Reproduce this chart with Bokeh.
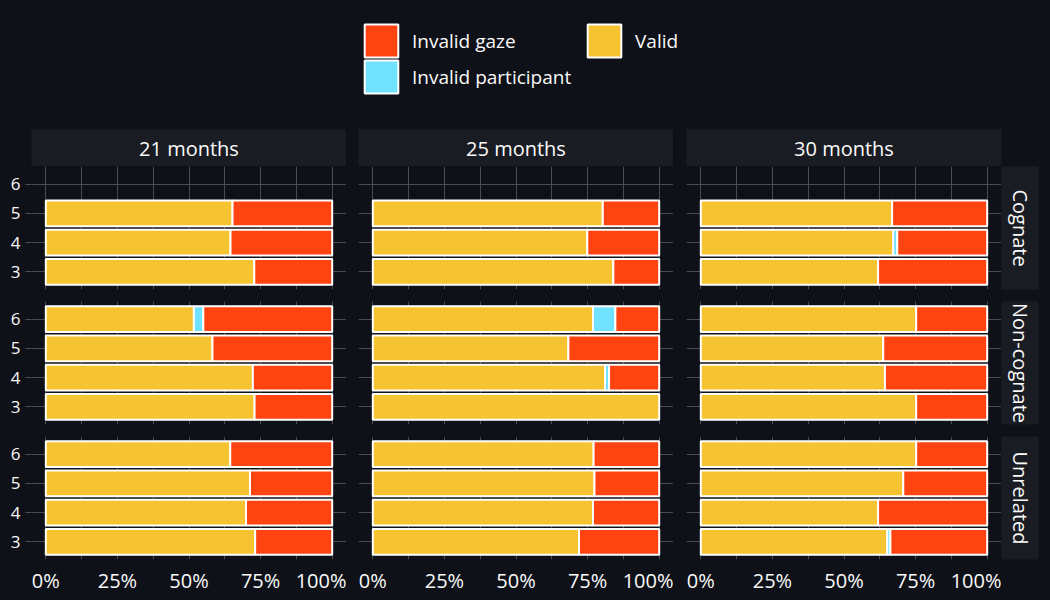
import numpy as np
from bokeh.plotting import figure
from bokeh.models import (Range1d, FixedTicker, PrintfTickFormatter, Legend, LegendItem,
                          ColumnDataSource, Label)
from bokeh.layouts import row, column
from bokeh.embed import file_html
from bokeh.resources import INLINE

# ---------------- data (percent of trials, trial numbers 3, 4, 5, 6) ----------------
AGES = ["21 months", "25 months", "30 months"]
CONDITIONS = ["Cognate", "Non-cognate", "Unrelated"]
TRIALS = [3, 4, 5, 6]
STATUSES = ["Valid", "Invalid participant", "Invalid gaze"]   # stacked from 0 %

VALID_21 = {"Cognate": [72.8, 64.5, 65.2, None],
            "Non-cognate": [72.9, 72.3, 58.2, 51.7],
            "Unrelated": [73.1, 69.9, 71.3, 64.4]}
PART_21 = {"Cognate": [0, 0, 0, None],
           "Non-cognate": [0, 0, 0, 3.3],
           "Unrelated": [0, 0, 0, 0]}
GAZE_21 = {"Cognate": [27.2, 35.5, 34.8, None],
           "Non-cognate": [27.1, 27.7, 41.8, 45.0],
           "Unrelated": [26.9, 30.1, 28.7, 35.6]}

VALID_25 = {"Cognate": [84.0, 74.9, 80.3, None],
            "Non-cognate": [100.0, 81.1, 68.3, 76.9],
            "Unrelated": [72.0, 76.9, 77.4, 77.1]}
PART_25 = {"Cognate": [0, 0, 0, None],
           "Non-cognate": [0, 1.4, 0, 7.8],
           "Unrelated": [0, 0, 0, 0]}
GAZE_25 = {"Cognate": [16.0, 25.1, 19.7, None],
           "Non-cognate": [0, 17.5, 31.7, 15.3],
           "Unrelated": [28.0, 23.1, 22.6, 22.9]}

VALID_30 = {"Cognate": [61.9, 67.2, 66.8, None],
            "Non-cognate": [75.2, 64.3, 63.7, 75.2],
            "Unrelated": [65.1, 61.9, 70.7, 75.2]}
PART_30 = {"Cognate": [0, 1.4, 0, None],
           "Non-cognate": [0, 0, 0, 0],
           "Unrelated": [1.1, 0, 0, 0]}
GAZE_30 = {"Cognate": [38.1, 31.4, 33.2, None],
           "Non-cognate": [24.8, 35.7, 36.3, 24.8],
           "Unrelated": [33.8, 38.1, 29.3, 24.8]}

X_TICKS = [0, 25, 50, 75, 100]
X_MINOR = [12.5, 37.5, 62.5, 87.5]

DATA = {
    "21 months": {"Valid": VALID_21, "Invalid participant": PART_21, "Invalid gaze": GAZE_21},
    "25 months": {"Valid": VALID_25, "Invalid participant": PART_25, "Invalid gaze": GAZE_25},
    "30 months": {"Valid": VALID_30, "Invalid participant": PART_30, "Invalid gaze": GAZE_30},
}

# ---------------- style ----------------
COLORS = {"Valid": "#F6C431", "Invalid participant": "#70E1FF", "Invalid gaze": "#FF4411"}
BG = "#0e1117"
STRIP_BG = "#1a1c23"
GRID = "#4a4c52"
TEXT = "#fafafa"
FONT = "Open Sans"

FRAME_W = 315
FRAME_H = 123
LEFT_BORDERS = [31, 12, 13]


def base_fig(width, height, **kw):
    p = figure(width=width, height=height, output_backend="svg", toolbar_location=None,
               background_fill_color=kw.pop("bg", BG), border_fill_color=BG,
               outline_line_color=None, **kw)
    return p


# ---------------- legend ----------------
lf = base_fig(1050, 129, x_range=Range1d(0, 1), y_range=Range1d(0, 1),
              x_axis_location=None, y_axis_location=None,
              min_border_left=0, min_border_right=0, min_border_top=0, min_border_bottom=0)
lf.grid.visible = False
legend_renderers = {}
for st in STATUSES:
    # placeholder renderer (NaN geometry, draws nothing) that only feeds the legend
    legend_renderers[st] = lf.quad(left=[np.nan], right=[np.nan], top=[np.nan], bottom=[np.nan],
                                   fill_color=COLORS[st], line_color="white", line_width=2)
for label, (lx, ly) in [("Invalid gaze", (360, 68)), ("Invalid participant", (360, 32)),
                        ("Valid", (583, 68))]:
    lg = Legend(items=[LegendItem(label=label, renderers=[legend_renderers[label]])],
                location=(lx, ly), glyph_width=42, glyph_height=41, label_height=41,
                label_standoff=10, padding=0, margin=0, spacing=0,
                background_fill_alpha=0, border_line_color=None,
                label_text_font=FONT, label_text_font_size="19px", label_text_color=TEXT)
    lf.add_layout(lg, "center")

# ---------------- top strips ----------------
strips_top = []
for ai, age in enumerate(AGES):
    right = 49 if ai == 2 else 0
    s = base_fig(LEFT_BORDERS[ai] + FRAME_W + right, 37, bg=STRIP_BG,
                 x_range=Range1d(0, 1), y_range=Range1d(0, 1),
                 x_axis_location=None, y_axis_location=None,
                 min_border_left=LEFT_BORDERS[ai], min_border_right=right,
                 min_border_top=0, min_border_bottom=0)
    s.grid.visible = False
    s.add_layout(Label(x=0.5, y=0.5, text=age, text_align="center", text_baseline="middle",
                       text_font=FONT, text_font_size="20px", text_color=TEXT))
    strips_top.append(s)

# ---------------- panels ----------------
rows = []
for ci, cond in enumerate(CONDITIONS):
    bottom = 41 if ci == 2 else 12
    figs = []
    for ai, age in enumerate(AGES):
        p = base_fig(LEFT_BORDERS[ai] + FRAME_W, FRAME_H + bottom,
                     x_range=Range1d(-5, 105), y_range=Range1d(2.4, 6.6),
                     x_axis_location="below" if ci == 2 else None,
                     y_axis_location="left" if ai == 0 else None,
                     min_border_left=LEFT_BORDERS[ai], min_border_right=0,
                     min_border_top=0, min_border_bottom=bottom)
        # grid
        p.xgrid.ticker = FixedTicker(ticks=X_TICKS, minor_ticks=X_MINOR)
        p.xgrid.grid_line_color = GRID
        p.xgrid.minor_grid_line_color = GRID
        p.ygrid.ticker = FixedTicker(ticks=TRIALS)
        p.ygrid.grid_line_color = GRID
        # y axis
        if ai == 0:
            ya = p.yaxis[0]
            ya.ticker = FixedTicker(ticks=TRIALS)
            ya.axis_line_color = None
            ya.major_tick_line_color = GRID
            ya.major_tick_out = 6
            ya.major_tick_in = 0
            ya.minor_tick_line_color = None
            ya.major_label_text_color = TEXT
            ya.major_label_text_font = FONT
            ya.major_label_text_font_size = "17px"
            ya.major_label_standoff = 5
        # x axis
        if ci == 2:
            xa = p.xaxis[0]
            xa.ticker = FixedTicker(ticks=X_TICKS)
            xa.formatter = PrintfTickFormatter(format="%d%%")
            xa.axis_line_color = None
            xa.major_tick_line_color = None
            xa.major_tick_out = 0
            xa.major_tick_in = 0
            xa.minor_tick_line_color = None
            xa.major_label_text_color = TEXT
            xa.major_label_text_font = FONT
            xa.major_label_text_font_size = "20px"
            xa.major_label_standoff = 7
        # stacked bars
        cum = [0.0] * len(TRIALS)
        for st in STATUSES:
            vals = DATA[age][st][cond]
            ys, lefts, rights = [], [], []
            for k, (t, v) in enumerate(zip(TRIALS, vals)):
                if v is None:
                    continue
                if v > 0:
                    ys.append(t)
                    lefts.append(cum[k])
                    rights.append(cum[k] + v)
                cum[k] += v
            src = ColumnDataSource(dict(y=ys, left=lefts, right=rights))
            p.hbar(y="y", left="left", right="right", height=0.88, source=src,
                   fill_color=COLORS[st], line_color="white", line_width=2)
        figs.append(p)
    # right strip
    s = base_fig(49, FRAME_H + bottom, bg=STRIP_BG,
                 x_range=Range1d(0, 1), y_range=Range1d(0, 1),
                 x_axis_location=None, y_axis_location=None,
                 min_border_left=0, min_border_right=12, min_border_top=0, min_border_bottom=bottom)
    s.grid.visible = False
    s.add_layout(Label(x=0.5, y=0.5, text=cond, angle=-np.pi / 2, text_align="center",
                       text_baseline="middle", text_font=FONT, text_font_size="20px",
                       text_color=TEXT))
    figs.append(s)
    rows.append(row(*figs, spacing=0))

layout = column(lf, row(*strips_top, spacing=0), *rows, spacing=0,
                styles={"background-color": BG})

open("out.html", "w").write(file_html(layout, INLINE))
